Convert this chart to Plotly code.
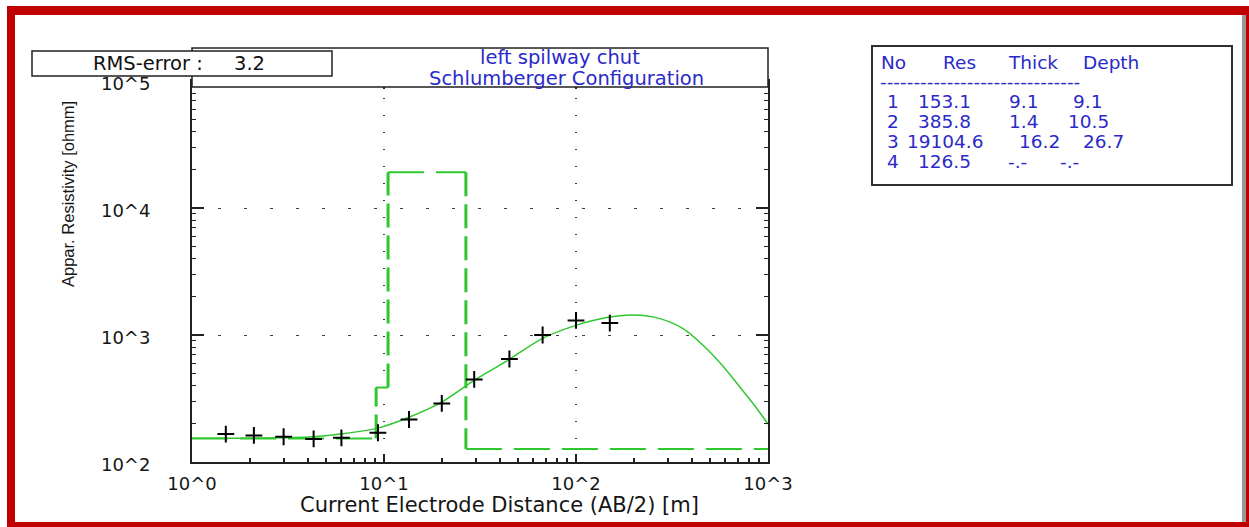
import plotly.graph_objects as go

# ---------------- data ----------------
# observed apparent resistivity (crosses)
ab2 = [1.5, 2.1, 3.0, 4.3, 6.0, 9.3, 13.5, 20, 29.5, 45, 67, 100, 150]
rho_obs = [166, 162, 158, 152, 155, 170, 216, 289, 447, 647, 1000, 1303, 1242]

# fitted model response curve
curve_x = [1, 2, 4.27, 5.9, 9.2, 13.4, 20, 30, 44.8, 67, 100, 144.5, 198, 274, 361, 459, 583, 715, 855, 1000]
curve_y = [154, 154, 158, 166, 184, 224, 296, 447, 641, 942, 1191, 1371, 1436, 1345, 1122, 830, 568, 388, 276, 199]

# layered model (table)
layer_no = [1, 2, 3, 4]
layer_res = [153.1, 385.8, 19104.6, 126.5]
layer_thick = [9.1, 1.4, 16.2, None]
layer_depth = [9.1, 10.5, 26.7, None]

x_tickvals = [1, 10, 100, 1000]
x_ticktext = ["10^0", "10^1", "10^2", "10^3"]
y_tickvals = [100, 1000, 10000, 100000]
y_ticktext = ["10^2", "10^3", "10^4", "10^5"]

title_lines = ["left spilway chut", "Schlumberger Configuration"]
rms_value = 3.2
x_title = "Current Electrode Distance (AB/2) [m]"
y_title = "Appar. Resistivity [ohmm]"

# ---------------- geometry helpers ----------------
W, H = 1249, 527
L, R, T, B = 192, 481, 81, 65
PW, PH = W - L - R, H - T - B


def xp(px):
    return (px - L) / PW


def yp(py):
    return (H - B - py) / PH


FONT = "DejaVu Sans"
BLUE = "#2a2ac8"
GREEN = "#2ec82e"
RED = "#c00000"
AX = "#202020"

fig = go.Figure()

# model step: horizontal and vertical pieces
x_min, x_max = x_tickvals[0], x_tickvals[-1]
tops = [x_min] + layer_depth[:-1]
bots = layer_depth[:-1] + [x_max]
hx, hy = [], []
for t, b, r in zip(tops, bots, layer_res):
    hx += [t, b, None]
    hy += [r, r, None]
vx, vy = [], []
for i in range(len(layer_res) - 1):
    vx += [layer_depth[i], layer_depth[i], None]
    vy += [layer_res[i], layer_res[i + 1], None]

fig.add_trace(go.Scatter(x=hx, y=hy, mode="lines", connectgaps=False,
                         line=dict(color=GREEN, width=2, dash="36px,12px"),
                         hoverinfo="skip", showlegend=False))
fig.add_trace(go.Scatter(x=vx, y=vy, mode="lines", connectgaps=False,
                         line=dict(color=GREEN, width=3, dash="24px,8px"),
                         hoverinfo="skip", showlegend=False))

# fitted curve
fig.add_trace(go.Scatter(x=curve_x, y=curve_y, mode="lines",
                         line=dict(color=GREEN, width=1.5, shape="spline", smoothing=0.8),
                         showlegend=False))

# observed data
fig.add_trace(go.Scatter(x=ab2, y=rho_obs, mode="markers",
                         marker=dict(symbol="cross-thin", size=12,
                                     line=dict(width=2, color="black")),
                         showlegend=False))

shapes = []
# title box
shapes.append(dict(type="rect", xref="paper", yref="paper", layer="above",
                   x0=xp(192), x1=xp(768), y0=yp(87), y1=yp(48),
                   fillcolor="white", line=dict(color="#202020", width=1.5)))
# RMS box
shapes.append(dict(type="rect", xref="paper", yref="paper", layer="above",
                   x0=xp(32), x1=xp(332), y0=yp(76), y1=yp(51),
                   fillcolor="white", line=dict(color="#202020", width=1.5)))
# layer table box
shapes.append(dict(type="rect", xref="paper", yref="paper", layer="above",
                   x0=xp(872), x1=xp(1232), y0=yp(185), y1=yp(46),
                   fillcolor="white", line=dict(color="#303030", width=2)))
# red frame
for (a, b_, c, d, col) in [(7, 15, 6, 527, RED), (7, 1249, 6, 15, RED),
                           (7, 1249, 522, 527, RED), (1246, 1249, 6, 527, RED),
                           (1242, 1246, 15, 522, "#9a9a9a")]:
    shapes.append(dict(type="rect", xref="paper", yref="paper", layer="above",
                       x0=xp(a), x1=xp(b_), y0=yp(d), y1=yp(c),
                       fillcolor=col, line=dict(width=0)))

ann = []


def add_text(text, px, py, size=18.5, color=BLUE, xanchor="left", angle=0, family=FONT):
    ann.append(dict(text=text, x=xp(px), y=yp(py), xref="paper", yref="paper",
                    showarrow=False, xanchor=xanchor, yanchor="middle",
                    textangle=angle,
                    font=dict(family=family, size=size, color=color)))


# title
add_text(title_lines[0], 560, 58, size=19.5, xanchor="center")
add_text(title_lines[1], 566, 78.5, size=19.5, xanchor="center")
# RMS
add_text("RMS-error :", 91, 64, size=19.5, color="#101010")
add_text(f"{rms_value}", 232, 64, size=19.5, color="#101010")
# table header
head_y = 62
add_text("No", 879, head_y)
add_text("Res", 941, head_y)
add_text("Thick", 1006, head_y)
add_text("Depth", 1081, head_y)
add_text("-" * 30, 878, 81.5)
row_y = [101.5, 121.5, 141.5, 161]


def fmt(v):
    return "-.-" if v is None else f"{v}"


res_x = [916, 916, 905, 916]
thick_x = [1007, 1007, 1017, 1006]
depth_x = [1071, 1066, 1081, 1058]
for i in range(len(layer_no)):
    add_text(str(layer_no[i]), 885, row_y[i])
    add_text(f"{layer_res[i]}", res_x[i], row_y[i])
    add_text(fmt(layer_thick[i]), thick_x[i], row_y[i])
    add_text(fmt(layer_depth[i]), depth_x[i], row_y[i])

# axis titles
add_text(x_title, 499, 505, size=21, color="#151515", xanchor="center")
add_text(y_title, 68, 194, size=16.5, color="#151515", xanchor="center", angle=-90,
         family="Liberation Sans")

fig.update_layout(
    width=W, height=H,
    margin=dict(l=L, r=R, t=T, b=B, autoexpand=False),
    paper_bgcolor="white", plot_bgcolor="white",
    showlegend=False,
    shapes=shapes, annotations=ann,
    font=dict(family=FONT, color="#151515"),
)

fig.update_xaxes(
    type="log", range=[0, 3],
    tickmode="array", tickvals=x_tickvals, ticktext=x_ticktext,
    tickfont=dict(family=FONT, size=18, color="#151515"),
    ticks="inside", ticklen=8, tickwidth=2, tickcolor=AX,
    ticklabelstandoff=4,
    showline=True, linewidth=2, linecolor=AX, mirror="ticks",
    showgrid=True, gridcolor="#404040", gridwidth=2, griddash="1px,16px",
    zeroline=False,
    minor=dict(ticks="inside", ticklen=4, tickwidth=1.5, tickcolor=AX,
               dtick="D1", showgrid=False),
)
fig.update_yaxes(
    type="log", range=[2, 5],
    tickmode="array", tickvals=y_tickvals, ticktext=y_ticktext,
    tickfont=dict(family=FONT, size=18, color="#151515"),
    ticks="inside", ticklen=12, tickwidth=1.5, tickcolor=AX,
    ticklabelstandoff=36, ticklabelshift=3,
    showline=True, linewidth=2, linecolor=AX, mirror="ticks",
    showgrid=True, gridcolor="#404040", gridwidth=1, griddash="3px,23px",
    zeroline=False,
    minor=dict(ticks="inside", ticklen=4, tickwidth=1, tickcolor=AX,
               dtick="D1", showgrid=False),
)

fig.write_html("out.html")
